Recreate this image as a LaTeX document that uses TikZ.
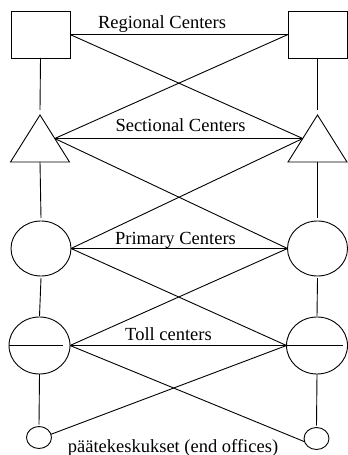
\documentclass[tikz,border=0pt]{standalone}
\usepackage{fontspec}
\setmainfont{Liberation Serif}
\usetikzlibrary{shapes.geometric}

\begin{document}
\begin{tikzpicture}[x=1bp, y=-1bp, line width=0.9bp,
		office/.style={draw, inner sep=0pt, outer sep=0pt},
		regional/.style={office, rectangle, minimum width=59bp, minimum height=47bp},
		sectional/.style={office, isosceles triangle, isosceles triangle stretches, shape border rotate=90, minimum width=59bp, minimum height=47bp, anchor=lower side},
		primary/.style={office, ellipse, minimum width=60bp, minimum height=55bp},
		toll/.style={office, ellipse, minimum width=61bp, minimum height=57bp},
		endoffice/.style={office, ellipse, minimum width=25bp, minimum height=22bp},
		level/.style={anchor=base, inner sep=0pt, font=\fontsize{18.5bp}{20bp}\selectfont}]
		%%%%% START %%%%%
		\useasboundingbox (0, 0) rectangle (347, 455);
		
		\node[regional] (regL) at (40.5, 34.5) {};
		\node[regional] (regR) at (317.5, 34.5) {};
		\node[sectional] (secL) at (40, 162) {};
		\node[sectional] (secR) at (317.5, 162) {};
		\node[primary] (priL) at (41, 248.5) {};
		\node[primary] (priR) at (317.5, 248.5) {};
		\node[toll] (tollL) at (39.5, 345.5) {};
		\node[toll] (tollR) at (317, 345.5) {};
		\node[endoffice] (endL) at (39, 437.5) {};
		\node[endoffice] (endR) at (316.5, 438.5) {};
		
		% bar inside the toll centers
		\draw (tollL.west) -- ([xshift=-7bp]tollL.east);
		\draw ([xshift=-2bp]tollR.west) -- ([xshift=-5bp]tollR.east);
		
		% verticals
		\draw (regL.south) -- ([yshift=5bp]secL.apex);
		\draw (regR.south) -- ([yshift=5bp]secR.apex);
		\draw (secL.lower side) -- ([yshift=3bp]priL.north);
		\draw (secR.lower side) -- ([yshift=3bp]priR.north);
		\draw ([yshift=-2bp]priL.south) -- ([yshift=1bp]tollL.north);
		\draw ([yshift=-2bp]priR.south) -- ([yshift=1bp]tollR.north);
		\draw (tollL.south) -- ([yshift=2bp]endL.north);
		\draw (tollR.south) -- ([yshift=2bp]endR.north);
		
		% horizontals and crossings
		\draw (regL.east) -- (regR.west);
		\draw (regL.east) -- (secR.left side);
		\draw (regR.west) -- (secL.right side);
		\draw (secL.right side) -- (secR.left side);
		\draw (secL.right side) -- (priR.west);
		\draw (secR.left side) -- (priL.east);
		\draw (priL.east) -- (priR.west);
		\draw (priL.east) -- (tollR.west);
		\draw (priR.west) -- (tollL.east);
		\draw (tollL.east) -- (tollR.west);
		\draw (tollR.west) -- (endL.15);
		\draw (tollL.east) -- (endR.195);
		
		\node[level] (regText) at (162, 28.3) {Regional Centers};
		\node[level] (secText) at (180.5, 131.7) {Sectional Centers};
		\node[level] (priText) at (175.5, 244) {Primary Centers};
		\node[level] (tollText) at (168.5, 340) {Toll centers};
		\node[level] (endText) at (173, 452.5) {päätekeskukset (end offices)};
		%%%%% END %%%%%
	\end{tikzpicture}
\end{document}
